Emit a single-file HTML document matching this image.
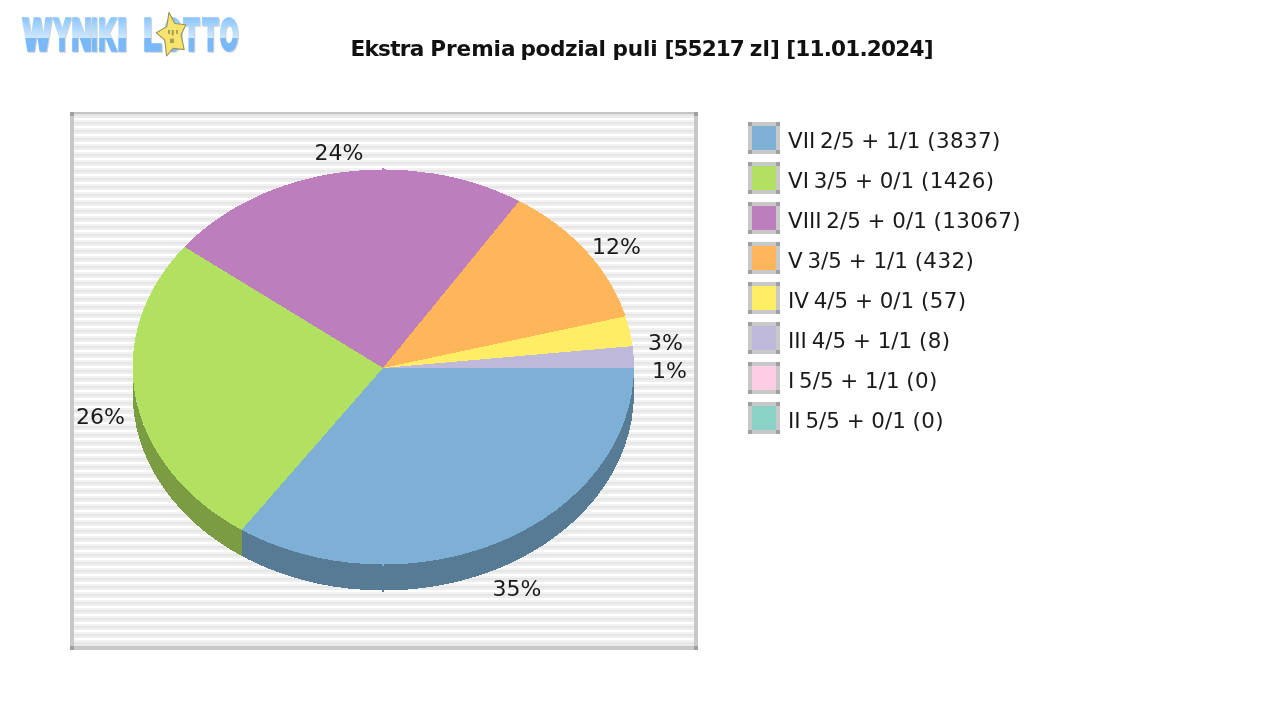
<!DOCTYPE html>
<html lang="pl">
<head>
<meta charset="utf-8">
<title>Ekstra Premia podzial puli</title>
<style>
html,body{margin:0;padding:0;background:#fff;}
body{width:1280px;height:720px;overflow:hidden;position:relative;}
svg{position:absolute;left:0;top:0;display:block;}
.t{font-family:"DejaVu Sans","Liberation Sans",sans-serif;font-size:21.4px;fill:#1a1a1a;}
.p{font-family:"DejaVu Sans","Liberation Sans",sans-serif;font-size:22px;fill:#1a1a1a;}
.title{font-family:"DejaVu Sans","Liberation Sans",sans-serif;font-weight:bold;font-size:21.6px;fill:#111;}
.lg,.ls{font-family:"Liberation Sans","DejaVu Sans",sans-serif;font-weight:bold;font-size:43.5px;}
.lg{fill:url(#lg);stroke:url(#lg);stroke-width:3.6;stroke-linejoin:miter;}
.ls{fill:#cfcfd3;stroke:#cfcfd3;stroke-width:3.6;stroke-linejoin:miter;}
</style>
</head>
<body>
<svg width="1280" height="720" viewBox="0 0 1280 720">
<defs>
<pattern id="stripes" x="0" y="118" width="8" height="8" patternUnits="userSpaceOnUse">
<rect x="0" y="0" width="8" height="2" fill="#ffffff"/>
<rect x="0" y="2" width="8" height="2" fill="#f2f2f2"/>
<rect x="0" y="4" width="8" height="2" fill="#e6e6e6"/>
<rect x="0" y="6" width="8" height="2" fill="#eeeeee"/>
</pattern>
<linearGradient id="lg" x1="0" y1="18" x2="0" y2="52" gradientUnits="userSpaceOnUse">
<stop offset="0" stop-color="#8cc6ff"/>
<stop offset="0.58" stop-color="#cde7ff"/>
<stop offset="0.6" stop-color="#79b9f9"/>
<stop offset="1" stop-color="#79b9f9"/>
</linearGradient>
</defs>
<rect x="0" y="0" width="1280" height="720" fill="#ffffff"/>
<!-- chart frame -->
<g shape-rendering="crispEdges">
<rect x="70" y="112" width="628" height="538" fill="#c8c8c8"/>
<rect x="74" y="114" width="620" height="532" fill="url(#stripes)"/>
<rect x="74" y="112" width="620" height="2" fill="#c4c4c4"/>
<rect x="74" y="642" width="620" height="4" fill="#e8e8e8"/>
<rect x="74" y="114" width="620" height="2" fill="#e4e4e4"/>
<rect x="70" y="112" width="4" height="4" fill="#a0a0a0"/>
<rect x="694" y="112" width="4" height="4" fill="#a0a0a0"/>
<rect x="70" y="646" width="4" height="4" fill="#a0a0a0"/>
<rect x="694" y="646" width="4" height="4" fill="#a0a0a0"/>
</g>
<!-- pie -->
<g shape-rendering="crispEdges">
<path d="M634.00,368.00 A250.7,197.5 0 0 1 241.63,529.94 L241.63,555.94 A250.7,197.5 0 0 0 634.00,394.00 Z" fill="#587b95"/>
<path d="M241.63,529.94 A250.7,197.5 0 0 1 132.60,367.00 L132.60,393.00 A250.7,197.5 0 0 0 241.63,555.94 Z" fill="#7c9c43"/>
<path d="M383,368 L634.00,368.00 A250.7,197.5 0 0 1 241.63,529.94 Z" fill="#7eb0d5"/>
<path d="M383,368 L241.63,529.94 A250.7,197.5 0 0 1 184.41,246.77 Z" fill="#b2e061"/>
<path d="M383,368 L184.41,246.77 A250.7,197.5 0 0 1 519.22,201.04 Z" fill="#bd7ebe"/>
<path d="M383,368 L519.22,201.04 A250.7,197.5 0 0 1 625.59,316.28 Z" fill="#ffb55a"/>
<path d="M383,368 L625.59,316.28 A250.7,197.5 0 0 1 632.59,346.08 Z" fill="#ffee65"/>
<path d="M383,368 L632.59,346.08 A250.7,197.5 0 0 1 634.00,368.00 Z" fill="#beb9db"/>
<rect x="382" y="168" width="2" height="3" fill="#bd7ebe"/>
<rect x="382" y="564" width="2" height="2" fill="#7eb0d5"/>
<rect x="382" y="590" width="2" height="2" fill="#587b95"/>
</g>
<!-- labels -->
<text x="314.5" y="160" class="p">24%</text>
<text x="592" y="254" class="p">12%</text>
<text x="648" y="350" class="p">3%</text>
<text x="652" y="378" class="p">1%</text>
<text x="76" y="424" class="p">26%</text>
<text x="492.5" y="596" class="p">35%</text>
<!-- legend -->
<g shape-rendering="crispEdges">
<rect x="748" y="122" width="32" height="32" fill="#c8c8c8"/>
<rect x="748" y="122" width="4" height="4" fill="#a0a0a0"/>
<rect x="776" y="122" width="4" height="4" fill="#a0a0a0"/>
<rect x="748" y="150" width="4" height="4" fill="#a0a0a0"/>
<rect x="776" y="150" width="4" height="4" fill="#a0a0a0"/>
<rect x="752" y="126" width="24" height="24" fill="#7eb0d5"/>
<rect x="748" y="162" width="32" height="32" fill="#c8c8c8"/>
<rect x="748" y="162" width="4" height="4" fill="#a0a0a0"/>
<rect x="776" y="162" width="4" height="4" fill="#a0a0a0"/>
<rect x="748" y="190" width="4" height="4" fill="#a0a0a0"/>
<rect x="776" y="190" width="4" height="4" fill="#a0a0a0"/>
<rect x="752" y="166" width="24" height="24" fill="#b2e061"/>
<rect x="748" y="202" width="32" height="32" fill="#c8c8c8"/>
<rect x="748" y="202" width="4" height="4" fill="#a0a0a0"/>
<rect x="776" y="202" width="4" height="4" fill="#a0a0a0"/>
<rect x="748" y="230" width="4" height="4" fill="#a0a0a0"/>
<rect x="776" y="230" width="4" height="4" fill="#a0a0a0"/>
<rect x="752" y="206" width="24" height="24" fill="#bd7ebe"/>
<rect x="748" y="242" width="32" height="32" fill="#c8c8c8"/>
<rect x="748" y="242" width="4" height="4" fill="#a0a0a0"/>
<rect x="776" y="242" width="4" height="4" fill="#a0a0a0"/>
<rect x="748" y="270" width="4" height="4" fill="#a0a0a0"/>
<rect x="776" y="270" width="4" height="4" fill="#a0a0a0"/>
<rect x="752" y="246" width="24" height="24" fill="#ffb55a"/>
<rect x="748" y="282" width="32" height="32" fill="#c8c8c8"/>
<rect x="748" y="282" width="4" height="4" fill="#a0a0a0"/>
<rect x="776" y="282" width="4" height="4" fill="#a0a0a0"/>
<rect x="748" y="310" width="4" height="4" fill="#a0a0a0"/>
<rect x="776" y="310" width="4" height="4" fill="#a0a0a0"/>
<rect x="752" y="286" width="24" height="24" fill="#ffee65"/>
<rect x="748" y="322" width="32" height="32" fill="#c8c8c8"/>
<rect x="748" y="322" width="4" height="4" fill="#a0a0a0"/>
<rect x="776" y="322" width="4" height="4" fill="#a0a0a0"/>
<rect x="748" y="350" width="4" height="4" fill="#a0a0a0"/>
<rect x="776" y="350" width="4" height="4" fill="#a0a0a0"/>
<rect x="752" y="326" width="24" height="24" fill="#beb9db"/>
<rect x="748" y="362" width="32" height="32" fill="#c8c8c8"/>
<rect x="748" y="362" width="4" height="4" fill="#a0a0a0"/>
<rect x="776" y="362" width="4" height="4" fill="#a0a0a0"/>
<rect x="748" y="390" width="4" height="4" fill="#a0a0a0"/>
<rect x="776" y="390" width="4" height="4" fill="#a0a0a0"/>
<rect x="752" y="366" width="24" height="24" fill="#fdcce5"/>
<rect x="748" y="402" width="32" height="32" fill="#c8c8c8"/>
<rect x="748" y="402" width="4" height="4" fill="#a0a0a0"/>
<rect x="776" y="402" width="4" height="4" fill="#a0a0a0"/>
<rect x="748" y="430" width="4" height="4" fill="#a0a0a0"/>
<rect x="776" y="430" width="4" height="4" fill="#a0a0a0"/>
<rect x="752" y="406" width="24" height="24" fill="#8bd3c7"/>
</g>
<text x="788" y="148" class="t">VII<tspan dx="-2"> 2/5 + 1/1 </tspan><tspan style="letter-spacing:0.4px">(3837)</tspan></text>
<text x="788" y="188" class="t">VI<tspan dx="-2"> 3/5 + 0/1 </tspan><tspan style="letter-spacing:0.4px">(1426)</tspan></text>
<text x="788" y="228" class="t">VIII<tspan dx="-2"> 2/5 + 0/1 </tspan><tspan style="letter-spacing:0.4px">(13067)</tspan></text>
<text x="788" y="268" class="t">V<tspan dx="-2"> 3/5 + 1/1 </tspan><tspan style="letter-spacing:0.4px">(432)</tspan></text>
<text x="788" y="308" class="t">IV<tspan dx="-2"> 4/5 + 0/1 </tspan><tspan style="letter-spacing:0.4px">(57)</tspan></text>
<text x="788" y="348" class="t">III<tspan dx="-2"> 4/5 + 1/1 </tspan><tspan style="letter-spacing:0.4px">(8)</tspan></text>
<text x="788" y="388" class="t">I<tspan dx="-2"> 5/5 + 1/1 </tspan><tspan style="letter-spacing:0.4px">(0)</tspan></text>
<text x="788" y="428" class="t">II<tspan dx="-2"> 5/5 + 0/1 </tspan><tspan style="letter-spacing:0.4px">(0)</tspan></text>
<!-- title -->
<text y="56" class="title"><tspan x="350.4" style="letter-spacing:-0.72px">Ekstra </tspan><tspan x="430.3" style="letter-spacing:-0.08px">Premia </tspan><tspan x="520.4" style="letter-spacing:-0.36px">podzial </tspan><tspan x="612.4" style="letter-spacing:-0.15px">puli </tspan><tspan x="664.5" style="letter-spacing:-0.92px">[55217 </tspan><tspan x="749.75" style="letter-spacing:0.2px">zl] </tspan><tspan x="786.2" style="letter-spacing:-0.82px">[11.01.2024]</tspan></text>
<!-- logo -->
<g style="filter:drop-shadow(1.3px 1.3px 0 #cfcfd3)">
<text y="50.2" class="lg"><tspan x="23.20" textLength="27.42" lengthAdjust="spacingAndGlyphs">W</tspan><tspan x="53.77" textLength="16.38" lengthAdjust="spacingAndGlyphs">Y</tspan><tspan x="71.48" textLength="20.10" lengthAdjust="spacingAndGlyphs">N</tspan><tspan x="91.62" textLength="5.72" lengthAdjust="spacingAndGlyphs">I</tspan><tspan x="98.55" textLength="17.50" lengthAdjust="spacingAndGlyphs">K</tspan><tspan x="117.39" textLength="9.16" lengthAdjust="spacingAndGlyphs">I</tspan> <tspan x="143.45" textLength="17.94" lengthAdjust="spacingAndGlyphs">L</tspan><tspan x="164.03" textLength="17.89" lengthAdjust="spacingAndGlyphs">O</tspan><tspan x="183.78" textLength="15.21" lengthAdjust="spacingAndGlyphs">T</tspan><tspan x="202.78" textLength="15.21" lengthAdjust="spacingAndGlyphs">T</tspan><tspan x="220.03" textLength="17.89" lengthAdjust="spacingAndGlyphs">O</tspan></text>
</g>
<polygon points="169,12.4 174.9,23.5 185.8,24.8 181.1,34.8 184.2,49.6 173.3,48.2 166.6,56 164.8,40.2 156.4,32.8 166.7,26.6" fill="#f7e36f" stroke="#98925a" stroke-width="1.1" stroke-linejoin="round"/>
<g fill="#6e6a3c" opacity="0.55"><rect x="168" y="30" width="2" height="4"/><rect x="171.6" y="30" width="2.2" height="5.4"/><rect x="176" y="30" width="1.8" height="4"/><rect x="170" y="38.6" width="4" height="4.4"/></g>
</svg>
</body>
</html>
